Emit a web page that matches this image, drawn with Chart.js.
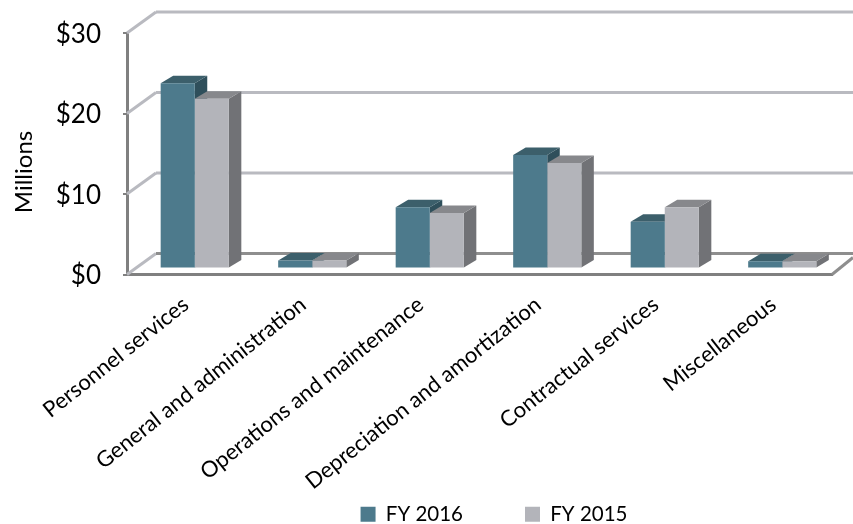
<!DOCTYPE html>
<html>
<head>
<meta charset="utf-8">
<style>
  html, body { margin: 0; padding: 0; background: #fff; }
  canvas { display: block; }
</style>
<script src="https://cdn.jsdelivr.net/npm/chart.js@4"></script>
</head>
<body>
<canvas id="chart" width="853" height="524"></canvas>
<script>
const categories = [
  "Personnel services",
  "General and administration",
  "Operations and maintenance",
  "Depreciation and amortization",
  "Contractual services",
  "Miscellaneous"
];
const fy2016 = [23, 1, 7.6, 14.1, 5.8, 0.9];
const fy2015 = [21.1, 1, 6.9, 13.1, 7.6, 0.9];
const yTicks = [0, 10, 20, 30];
const yTitle = "Millions";

// fake 3d: faces for each bar, back wall offset
const faces = [
  { top: "#3c5f6b", side: "#2f4f5b" },
  { top: "#87888c", side: "#717276" }
];
const wall = { dx: 29, dy: -21 };
const barShift = { dx: 9, dy: -6 };
const barDepth = { dx: 12.5, dy: -7.5 };

function poly(ctx, pts, color) {
  ctx.fillStyle = color;
  ctx.beginPath();
  pts.forEach((p, i) => i ? ctx.lineTo(p[0], p[1]) : ctx.moveTo(p[0], p[1]));
  ctx.closePath();
  ctx.fill();
}

function line(ctx, x1, y1, x2, y2, color, w) {
  ctx.strokeStyle = color;
  ctx.lineWidth = w;
  ctx.beginPath();
  ctx.moveTo(x1, y1);
  ctx.lineTo(x2, y2);
  ctx.stroke();
}

const fake3d = {
  id: "fake3d",
  afterLayout(chart) {
    // legend sits right of centre and low in the original
    chart.legend.left += 78;
    chart.legend.right += 78;
    chart.legend.top = 442;
    // keep the long rotated labels from being clipped at the scale's edge
    chart.scales.x.bottom = 524;
  },
  beforeDatasetsDraw(chart) {
    const { ctx, chartArea, scales } = chart;
    ctx.save();
    // back wall
    yTicks.forEach(v => {
      const y = scales.y.getPixelForValue(v);
      const c = v === 0 ? "#8e8e8e" : "#b9bac0";
      line(ctx, chartArea.left, y, chartArea.left + wall.dx, y + wall.dy, "#b9bac0", 3);
      line(ctx, chartArea.left + wall.dx, y + wall.dy, 853, y + wall.dy, c, 3);
    });
    line(ctx, chartArea.right, chartArea.bottom, 853, chartArea.bottom - 17, "#8e8e8e", 3);
    ctx.restore();

    ctx.save();
    ctx.translate(barShift.dx, barShift.dy);
    categories.forEach((c, i) => {
      [0, 1].forEach(d => {
        const bar = chart.getDatasetMeta(d).data[i];
        const { x, y, base, width } = bar.getProps(["x", "y", "base", "width"], true);
        const l = x - width / 2, r = x + width / 2;
        const dx = barDepth.dx, dy = barDepth.dy;
        poly(ctx, [[r, y], [r + dx, y + dy], [r + dx, base + dy], [r, base]], faces[d].side);
        poly(ctx, [[l, y], [l + dx, y + dy], [r + dx, y + dy], [r, y]], faces[d].top);
      });
    });
  },
  afterDatasetsDraw(chart) {
    chart.ctx.restore();
  },
  afterDraw(chart) {
    const { ctx } = chart;
    ctx.save();
    ctx.translate(24, 172);
    ctx.rotate(-Math.PI / 2);
    ctx.fillStyle = "#000";
    ctx.font = "24px Lato";
    ctx.textAlign = "center";
    ctx.textBaseline = "middle";
    ctx.fillText(yTitle, 0, 0);
    ctx.restore();
  }
};

new Chart(document.getElementById("chart"), {
  type: "bar",
  data: {
    labels: categories,
    datasets: [
      { label: "FY 2016", data: fy2016, backgroundColor: "#4d7a8c" },
      { label: "FY 2015", data: fy2015, backgroundColor: "#b3b4ba" }
    ]
  },
  plugins: [fake3d],
  options: {
    responsive: false,
    animation: false,
    barPercentage: 1,
    categoryPercentage: 0.58,
    layout: { padding: { top: 33, right: 21, left: 0, bottom: 0 } },
    plugins: {
      tooltip: { enabled: false },
      legend: {
        position: "bottom",
        labels: { boxWidth: 15, boxHeight: 15, padding: 62, color: "#000", font: { family: "Lato", size: 20.5 } }
      }
    },
    scales: {
      x: {
        grid: { display: false },
        border: { color: "#808080", width: 3 },
        ticks: { color: "#000", autoSkip: false, minRotation: 38.5, maxRotation: 38.5, padding: 9, font: { family: "Lato", size: 22 } },
        afterFit: s => { s.height = 157; s.paddingTop = 0; s.paddingBottom = 0; }
      },
      y: {
        min: 0,
        max: 30,
        afterBuildTicks: s => { s.ticks = yTicks.map(v => ({ value: v })); },
        grid: { drawOnChartArea: false, color: "#808080", lineWidth: 2, tickLength: 4 },
        border: { color: "#808080", width: 3 },
        ticks: { color: "#000", padding: 22, labelOffset: 1.5, callback: v => "$" + v, font: { family: "Lato", size: 26 } },
        afterFit: s => { s.width = 127; s.paddingTop = 0; s.paddingBottom = 0; }
      }
    }
  }
});
</script>
</body>
</html>
